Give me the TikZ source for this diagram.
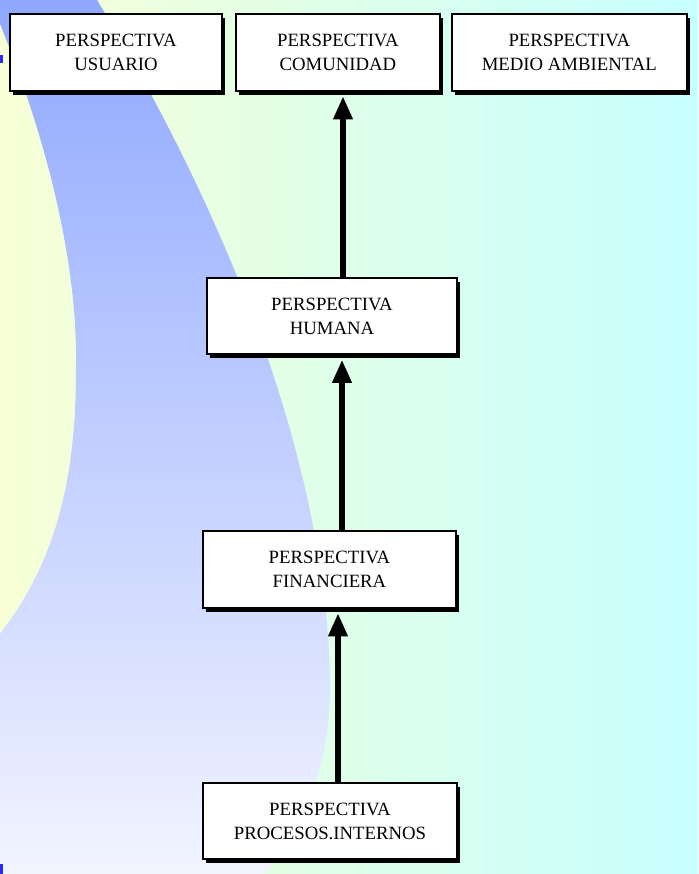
\documentclass[tikz,border=0pt]{standalone}
\usepackage{fontspec}
\setmainfont{Liberation Serif}
\usetikzlibrary{arrows.meta, positioning, shadows}

\definecolor{bgyellow}{HTML}{F8FFD6}
\definecolor{bgmint}{HTML}{DEFFEA}
\definecolor{bgcyan}{HTML}{C6FFFF}
\definecolor{bandtop}{HTML}{8FA8FF}
\definecolor{bandbot}{HTML}{F2F4FF}
\definecolor{dotblue}{HTML}{2A2AFF}

\tikzset{
  persp/.style={draw, line width=1.6pt, fill=white, align=center, inner sep=0pt,
    minimum height=2.3cm, font=\fontsize{16}{20.5}\selectfont,
    general shadow={fill=black, shadow xshift=0.09cm, shadow yshift=-0.12cm}},
  arr/.style={line width=5pt, -{Triangle[width=0.55cm, length=0.7cm]}, shorten >=0.13cm}
}

\begin{document}
\begin{tikzpicture}[x=0.03cm, y=-0.03cm]
  % Background
  \useasboundingbox (0,0) rectangle (698,874);
  \clip (0,0) rectangle (698,874);
  \shade[left color=bgyellow, right color=bgcyan, middle color=bgmint] (0,0) rectangle (698,874);

  % Blue band
  \shade[top color=bandtop, bottom color=bandbot]
    (-10,0) -- (97,0) .. controls (200,170) and (325,430) .. (330,680)
    .. controls (332,780) and (290,850) .. (262,874)
    -- (-10,874) -- (-5,640) .. controls (60,560) and (76,470) .. (76,368)
    .. controls (78,270) and (50,140) .. (-10,0) -- cycle;
  \fill[dotblue] (0,55) rectangle (3,63);
  \fill[dotblue] (0,864) rectangle (3,874);

  % Perspectives
  \node[persp, minimum width=6.36cm] (usuario) at (116,52.5) {PERSPECTIVA\\USUARIO};
  \node[persp, minimum width=6.12cm, right=0.36cm of usuario] (comunidad) {PERSPECTIVA\\COMUNIDAD};
  \node[persp, minimum width=7.05cm, right=0.3cm of comunidad] (medio) {PERSPECTIVA\\MEDIO AMBIENTAL};
  \node[persp, minimum width=7.5cm] (humana) at (332,316) {PERSPECTIVA\\HUMANA};
  \node[persp, minimum width=7.59cm] (financiera) at (329.5,569.5) {PERSPECTIVA\\FINANCIERA};
  \node[persp, minimum width=7.62cm] (procesos) at (330,821) {PERSPECTIVA\\PROCESOS.INTERNOS};

  % Arrows
  \draw[arr] ([xshift=0.33cm]humana.north) -- ([xshift=0.33cm]humana.north |- comunidad.south);
  \draw[arr] ([xshift=0.375cm]financiera.north) -- ([xshift=0.375cm]financiera.north |- humana.south);
  \draw[arr] ([xshift=0.24cm]procesos.north) -- ([xshift=0.24cm]procesos.north |- financiera.south);
\end{tikzpicture}
\end{document}
